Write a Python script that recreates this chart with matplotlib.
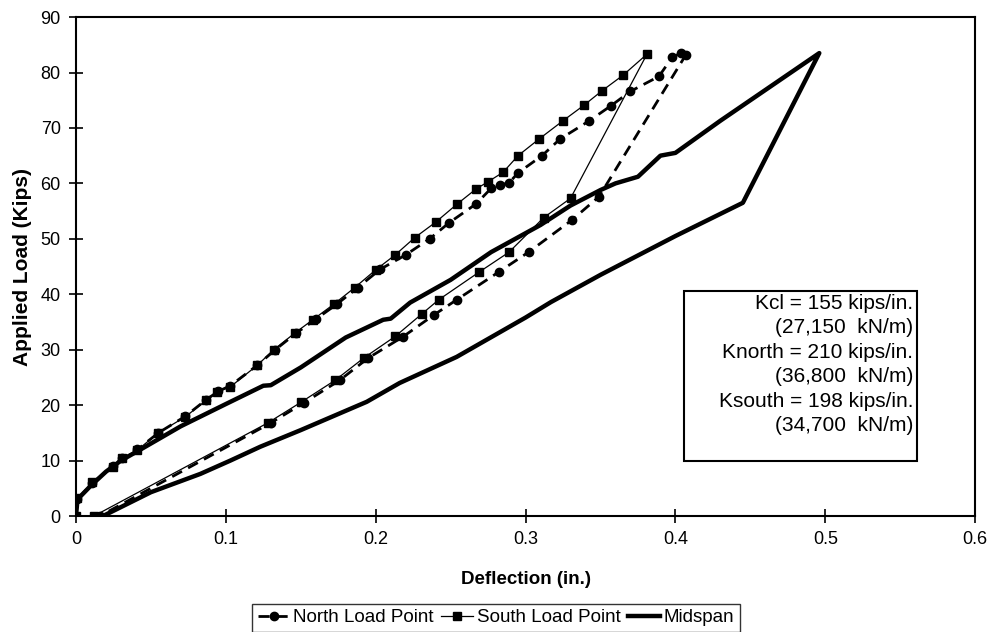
import matplotlib
matplotlib.use("Agg")
import matplotlib.pyplot as plt
from matplotlib.patches import Rectangle

plt.rcParams['font.family'] = ['Liberation Sans', 'DejaVu Sans']

# North load point (loading then unloading)
north_x = [0, 0.001, 0.011, 0.025, 0.031, 0.041, 0.055, 0.073, 0.087, 0.095, 0.103,
           0.121, 0.133, 0.147, 0.16, 0.174, 0.188, 0.203, 0.22, 0.236, 0.249,
           0.267, 0.277, 0.283, 0.289, 0.295, 0.311, 0.323, 0.342, 0.357, 0.37,
           0.389, 0.398, 0.404, 0.407,
           0.349, 0.331, 0.302, 0.282, 0.254, 0.239, 0.218, 0.195, 0.176, 0.152,
           0.13, 0.016]
north_y = [0, 3, 6, 9, 10.5, 12, 15, 18, 21, 22.5, 23.5,
           27.2, 30, 33, 35.5, 38.2, 41.2, 44.5, 47.1, 50, 52.9,
           56.3, 59.1, 59.7, 60.1, 61.9, 65, 68, 71.2, 74, 76.6,
           79.3, 82.8, 83.5, 83.2,
           57.6, 53.4, 47.6, 44, 39, 36.3, 32.3, 28.5, 24.5, 20.4,
           16.8, 0]

# South load point
south_x = [0, 0.001, 0.011, 0.025, 0.031, 0.041, 0.055, 0.073, 0.087, 0.094, 0.103,
           0.121, 0.132, 0.146, 0.158, 0.172, 0.186, 0.2, 0.213, 0.226, 0.24,
           0.254, 0.267, 0.275, 0.285, 0.295, 0.309, 0.325, 0.339, 0.351, 0.365,
           0.381,
           0.33, 0.312, 0.289, 0.269, 0.242, 0.231, 0.213, 0.192, 0.173, 0.15,
           0.128, 0.012]
south_y = [0, 3.2, 6.1, 8.9, 10.5, 11.9, 15, 17.9, 20.9, 22.4, 23.3,
           27.2, 30, 33, 35.4, 38.2, 41.2, 44.4, 47.1, 50.2, 53,
           56.2, 59, 60.3, 62, 65, 68, 71.3, 74.1, 76.7, 79.5,
           83.3,
           57.3, 53.8, 47.6, 44, 39, 36.5, 32.4, 28.5, 24.5, 20.5,
           16.8, 0]

# Midspan
mid_x = [0, 0.001, 0.01, 0.02, 0.03, 0.045, 0.07, 0.1, 0.125, 0.13, 0.15, 0.18,
         0.205, 0.21, 0.223, 0.25, 0.277, 0.31, 0.33, 0.35, 0.36, 0.375, 0.39,
         0.4, 0.43, 0.496,
         0.445, 0.4, 0.35, 0.317, 0.3, 0.254, 0.216, 0.194, 0.15, 0.123, 0.103,
         0.083, 0.05, 0.018]
mid_y = [0, 3, 5.5, 8, 10, 12.3, 16.2, 20.2, 23.5, 23.6, 26.8, 32.2,
         35.4, 35.6, 38.5, 42.6, 47.6, 52.5, 56, 58.8, 60, 61.2, 65,
         65.5, 71.3, 83.5,
         56.5, 50.5, 43.5, 38.6, 35.8, 28.7, 24, 20.6, 15.5, 12.5, 10,
         7.6, 4.3, 0]

stiffness_lines = ["Kcl = 155 kips/in.", "(27,150  kN/m)",
                   "Knorth = 210 kips/in.", "(36,800  kN/m)",
                   "Ksouth = 198 kips/in.", "(34,700  kN/m)"]

fig = plt.figure(figsize=(9.92, 6.32), dpi=100)
ax = fig.add_axes([0.0766, 0.1835, 0.9064, 0.7895])

ax.plot(north_x, north_y, color='black', linestyle=(0, (4, 2.5)), linewidth=2,
        marker='o', markersize=6, label='North Load Point')
ax.plot(south_x, south_y, color='black', linestyle='-', linewidth=0.9,
        marker='s', markersize=5.5, label='South Load Point')
ax.plot(mid_x, mid_y, color='black', linestyle='-', linewidth=3.2,
        label='Midspan')

ax.set_xlim(0, 0.6)
ax.set_ylim(0, 90)
ax.set_xticks([0, 0.1, 0.2, 0.3, 0.4, 0.5, 0.6])
ax.set_xticklabels(['0', '0.1', '0.2', '0.3', '0.4', '0.5', '0.6'])
ax.set_yticks(range(0, 91, 10))
ax.tick_params(direction='inout', length=10, width=1.2, labelsize=13, pad=6)
for s in ax.spines.values():
    s.set_linewidth(1.5)

ax.set_xlabel('Deflection (in.)', fontsize=13.5, fontweight='bold', labelpad=16)
ax.set_ylabel('Applied Load (Kips)', fontsize=15, fontweight='bold', labelpad=6)

# stiffness box
ax.add_patch(Rectangle((0.676, 0.110), 0.2595, 0.341, transform=ax.transAxes,
                       facecolor='white', edgecolor='black', linewidth=1.5, zorder=5))
ax.text(0.931, 0.445, "\n".join(stiffness_lines), transform=ax.transAxes,
        ha='right', va='top', fontsize=15, linespacing=1.36, zorder=6)

fig.legend(loc='lower center', bbox_to_anchor=(0.5, -0.015), ncol=3, fontsize=13.5,
           frameon=True, fancybox=False, edgecolor='black', handlelength=1.7,
           handletextpad=0.2, columnspacing=0.4, borderpad=0.3)

fig.savefig('out.png', dpi=100)
